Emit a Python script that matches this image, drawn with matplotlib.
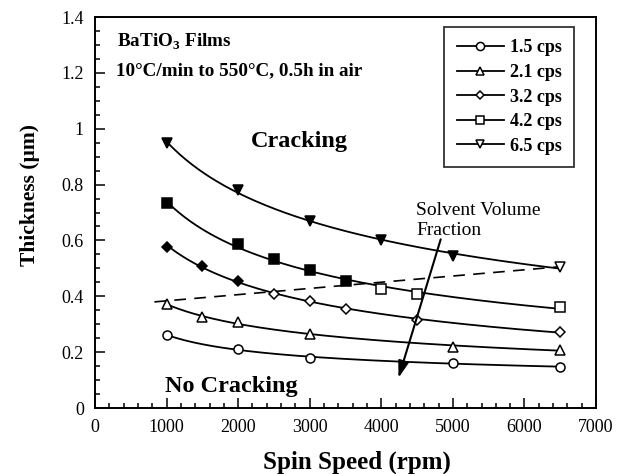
import numpy as np
import matplotlib
matplotlib.use("Agg")
import matplotlib.pyplot as plt
from matplotlib.ticker import MultipleLocator

plt.rcParams['font.family'] = ['Liberation Serif', 'DejaVu Serif']
plt.rcParams['mathtext.fontset'] = 'custom'
plt.rcParams['mathtext.rm'] = 'Liberation Serif'
plt.rcParams['mathtext.bf'] = 'Liberation Serif:bold'

# Film thickness (µm) versus spin speed (rpm) for each solution viscosity
speed_15 = [1000, 2000, 3000, 5000, 6500]
thick_15 = [0.261, 0.212, 0.180, 0.160, 0.148]

speed_21 = [1000, 1500, 2000, 3000, 5000, 6500]
thick_21 = [0.371, 0.327, 0.307, 0.264, 0.220, 0.208]

speed_32 = [1000, 1500, 2000, 2500, 3000, 3500, 4500, 6500]
thick_32 = [0.578, 0.510, 0.455, 0.410, 0.383, 0.353, 0.315, 0.273]
cracked_32 = [True, True, True, False, False, False, False, False]

speed_42 = [1000, 2000, 2500, 3000, 3500, 4000, 4500, 6500]
thick_42 = [0.733, 0.587, 0.535, 0.494, 0.455, 0.427, 0.407, 0.363]
cracked_42 = [True, True, True, True, True, False, False, False]

speed_65 = [1000, 2000, 3000, 4000, 5000, 6500]
thick_65 = [0.950, 0.780, 0.670, 0.600, 0.544, 0.506]
cracked_65 = [True, True, True, True, True, False]

labels = ['1.5 cps', '2.1 cps', '3.2 cps', '4.2 cps', '6.5 cps']

# Cracking boundary (dashed) and solvent-fraction arrow
boundary_speed = [830, 6500]
boundary_thick = [0.380, 0.506]
arrow_start = (4830, 0.604)
arrow_end = (4240, 0.108)

series = [
    (speed_15, thick_15, None, 'o', 6.5),
    (speed_21, thick_21, None, '^', 7),
    (speed_32, thick_32, cracked_32, 'D', 5),
    (speed_42, thick_42, cracked_42, 's', 6.5),
    (speed_65, thick_65, cracked_65, 'v', 7),
]

fig = plt.figure(figsize=(6.27, 4.74), dpi=100)
ax = fig.add_axes([0.1515, 0.1392, 0.7991, 0.8249])

for (sx, sy, cracked, mk, ms), lab in zip(series, labels):
    sx = np.asarray(sx, float)
    sy = np.asarray(sy, float)
    # smooth trend curve: quadratic fit in log-log space
    coef = np.polyfit(np.log(sx), np.log(sy), 2)
    xs = np.linspace(sx.min(), sx.max(), 200)
    ax.plot(xs, np.exp(np.polyval(coef, np.log(xs))), color='black', lw=1.3, zorder=2)
    if cracked is None:
        cracked = [False] * len(sx)
    cracked = np.asarray(cracked)
    ax.plot(sx[~cracked], sy[~cracked], linestyle='none', marker=mk, ms=ms,
            mfc='white', mec='black', mew=1.1, zorder=3)
    if cracked.any():
        ax.plot(sx[cracked], sy[cracked], linestyle='none', marker=mk, ms=ms,
                mfc='black', mec='black', mew=1.1, zorder=3)
    ax.plot([], [], color='black', lw=1.3, marker=mk, ms=ms * 0.9,
            mfc='white', mec='black', mew=1.1, label=lab)

ax.plot(boundary_speed, boundary_thick, color='black', lw=1.2,
        dashes=(7, 5), zorder=1)

ax.annotate('', xy=arrow_end, xytext=arrow_start,
            arrowprops=dict(arrowstyle='-|>,head_length=1.0,head_width=0.32',
                            color='black', lw=1.5, shrinkA=0, shrinkB=0))
ax.text(4490, 0.691, 'Solvent Volume', fontsize=14, ha='left', va='baseline')
ax.text(4490, 0.620, 'Fraction', fontsize=14, ha='left', va='baseline')

ax.text(2180, 0.934, 'Cracking', fontsize=17.5, fontweight='bold',
        ha='left', va='baseline')
ax.text(975, 0.058, 'No Cracking', fontsize=17.5, fontweight='bold',
        ha='left', va='baseline')
ax.text(311, 1.293, r'BaTiO$_\mathbf{3}$ Films', fontsize=13.8,
        fontweight='bold', ha='left', va='baseline')
ax.text(300, 1.192, '10°C/min to 550°C, 0.5h in air', fontsize=13.8,
        fontweight='bold', ha='left', va='baseline')

leg = ax.legend(loc='upper right', bbox_to_anchor=(0.957, 0.975),
                frameon=True, fancybox=False, edgecolor='black',
                prop={'weight': 'bold', 'size': 13}, handlelength=2.6,
                handletextpad=0.35, labelspacing=0.42, borderpad=0.7,
                borderaxespad=0)
leg.get_frame().set_linewidth(1.3)

ax.set_xlim(0, 7000)
ax.set_ylim(0, 1.4)
ax.xaxis.set_major_locator(MultipleLocator(1000))
ax.xaxis.set_minor_locator(MultipleLocator(200))
ax.yaxis.set_minor_locator(MultipleLocator(0.05))
ax.set_yticks(np.arange(0, 1.41, 0.2))
ax.set_yticklabels(['0', '0.2', '0.4', '0.6', '0.8', '1', '1.2', '1.4'])
ax.tick_params(which='both', direction='in', top=False, right=False,
               labelsize=13, width=1.1)
ax.tick_params(which='major', length=7, pad=8)
ax.tick_params(which='minor', length=3.5)
for sp in ax.spines.values():
    sp.set_linewidth(1.4)

ax.set_xlabel('Spin Speed (rpm)', fontsize=18, fontweight='bold')
ax.set_ylabel('Thickness (µm)', fontsize=15.5, fontweight='bold')
ax.xaxis.set_label_coords(0.523, -0.108)
ax.yaxis.set_label_coords(-0.11, 0.545)

fig.savefig('out.png', dpi=100)
